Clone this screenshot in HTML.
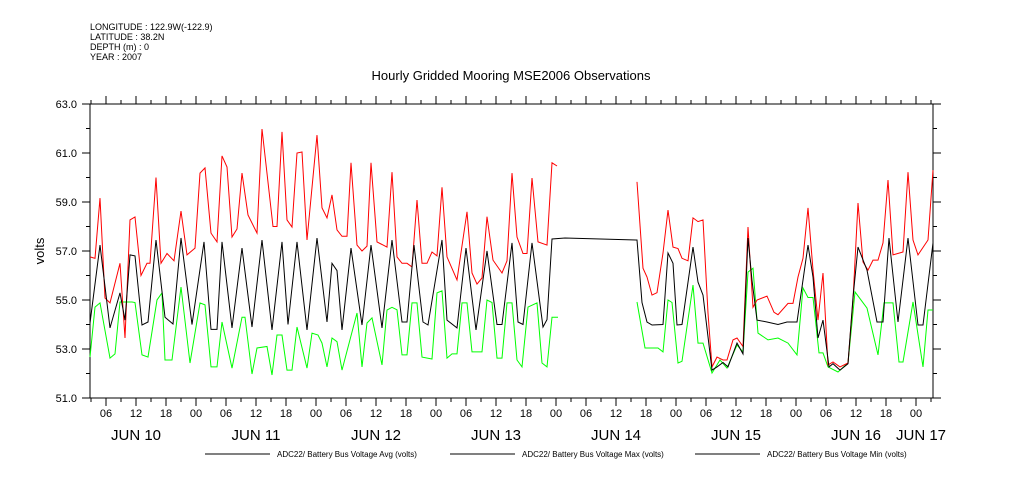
<!DOCTYPE html>
<html><head><meta charset="utf-8"><style>
body{margin:0;background:#fff;}
svg{display:block;font-family:"Liberation Sans",sans-serif;}
</style></head><body>
<svg id="chart" width="1009" height="504" viewBox="0 0 1009 504">
<g font-size="9" fill="#000">
<text x="90" y="30">LONGITUDE : 122.9W(-122.9)</text>
<text x="90" y="40">LATITUDE : 38.2N</text>
<text x="90" y="50">DEPTH (m) : 0</text>
<text x="90" y="60">YEAR : 2007</text>
</g>
<text x="511" y="80" font-size="13" text-anchor="middle">Hourly Gridded Mooring MSE2006 Observations</text>
<text x="44" y="251" font-size="13" text-anchor="middle" transform="rotate(-90 44 251)">volts</text>
<g id="axes"></g>
<g id="series"></g>
<g font-size="8">
<line x1="205" y1="454" x2="270" y2="454" stroke="#000"/>
<text x="277" y="457">ADC22/ Battery Bus Voltage Avg (volts)</text>
<line x1="450" y1="454" x2="515" y2="454" stroke="#000"/>
<text x="522" y="457">ADC22/ Battery Bus Voltage Max (volts)</text>
<line x1="695" y1="454" x2="760" y2="454" stroke="#000"/>
<text x="767" y="457">ADC22/ Battery Bus Voltage Min (volts)</text>
</g>
</svg>
<script>
// hours since JUN 10 00:00
var avgHours=[2.8,4.8,6.8,8.8,9.8,10.8,11.8,13.2,14.4,16,17.8,19.4,21,23.2,25.6,27,28.2,29.2,31.2,33.2,35.2,37.2,39.2,41.2,42.4,44.2,46.2,48.2,50.2,51.2,52.2,53.2,55,57.2,59,61.2,63.2,65.2,66.2,67.6,69.4,70.4,73.2,74.2,76.2,78,80,82.2,84.2,85.2,87.2,88.4,89.4,91.2,93.4,94.2,95.2,97.8,112.2,113.2,114.2,115.2,117.4,118.4,119.4,120.2,121.2,123.4,124.4,125.4,127.2,128.2,129.4,130.4,132.2,133.4,134.4,135.2,136.2,138.2,140.4,142.2,144.2,146.4,147.4,148.4,149.4,150.6,151.4,152.8,154.4,155.4,156.4,158.2,160.2,161.4,162.6,164.4,166.4,168.4,169.4,171.4];
var avgVals=[54.06,57.24,53.86,55.29,54.18,56.84,56.8,53.98,54.1,57.45,54.3,54.02,57.53,54.0,57.37,53.8,53.8,57.37,53.86,57.12,53.9,57.45,53.78,57.37,54.0,57.37,53.78,57.53,54.1,56.5,56.2,53.78,57.12,53.98,57.24,53.86,57.45,54.1,54.1,57.24,54.1,53.98,57.45,54.18,53.86,57.12,53.78,57.0,54.0,54.0,57.33,54.1,54.0,57.33,53.9,54.2,57.49,57.53,57.45,54.9,54.1,53.98,54.0,56.92,56.5,53.98,54.0,57.16,55.73,55.2,52.14,52.27,52.45,52.27,53.24,52.8,57.53,55.8,54.18,54.1,54.0,54.1,54.1,57.24,55.94,53.45,54.18,52.27,52.4,52.14,52.4,55.1,57.16,56.22,54.1,54.1,57.53,54.1,57.53,53.98,53.98,57.33];
var maxHours=[2.8,3.8,4.8,5.8,6.8,8.8,9.8,10.8,11.8,13,14.2,14.8,16,17,18.2,19.6,21,22.2,23.8,24.8,25.8,27,28.2,29.2,30.2,31.2,32.2,33.2,34.4,36.2,37.2,39.4,40.2,41.2,42.2,43.2,44.2,45.2,46.2,48.2,49.2,50.2,51.2,52.2,53.2,54.2,55,56.2,57.2,58.2,59,60.2,62.2,63.2,64.2,65.2,66.2,67.2,68.2,69.2,70.2,71.2,72.2,73.2,74.2,76.2,78.2,79.2,80.2,81.2,82.2,83.4,85.2,86.2,87.2,88.2,89.4,90.2,91.2,92.4,94.2,95.2,96.2,
null,112.2,113.4,114.2,115.2,116.2,117.4,118.4,119.4,120.4,121.2,122.4,123.4,124.4,125.4,126.4,127.2,128.2,129.4,130.2,131.4,132.2,133.4,134.4,135.4,136.2,138.2,139.6,140.4,142.4,143.4,144.4,145.4,146.4,147.4,148.4,149.4,150.4,151.4,152.8,154.4,155.4,156.4,157.4,158.4,159.4,160.4,161.4,162.4,163.4,165.4,166.4,167.4,168.4,170.4,171.4];
var maxVals=[56.76,56.7,59.16,55.08,54.88,56.5,53.45,58.27,58.39,56.0,56.5,56.5,60.0,56.5,56.9,56.6,58.63,56.84,57.12,60.18,60.39,57.73,57.37,60.88,60.43,57.57,57.9,60.18,58.47,57.73,61.98,58.0,58.0,61.86,58.27,57.98,61.0,61.04,57.45,61.73,58.76,58.35,59.29,57.86,57.6,57.6,60.6,57.24,57.0,57.2,60.6,57.37,57.16,60.22,56.76,56.5,56.5,56.35,59.08,56.5,56.5,56.96,56.8,59.6,56.76,55.82,58.6,56.1,55.65,55.9,58.4,56.63,56.1,56.6,60.18,57.57,56.9,56.9,59.98,57.37,57.24,60.6,60.47,
null,59.82,56.3,55.94,55.2,55.3,56.92,58.67,57.16,57.1,56.7,56.6,58.35,58.2,58.27,54.47,52.27,52.67,52.55,52.55,53.37,53.45,53.1,57.98,54.7,55.0,55.16,54.5,54.4,54.86,54.86,55.94,56.7,58.76,56.22,54.18,56.1,52.35,52.47,52.27,52.43,55.0,58.96,56.55,56.22,56.63,56.63,57.33,59.9,56.84,56.96,60.22,57.45,56.84,57.45,60.3];
var minHours=[2.8,3.8,4.8,6.8,7.8,8.8,9.8,11.2,11.8,13.2,14.4,16.2,17.2,17.8,19.2,21,22.8,24.8,25.8,27,28.2,29.2,31.2,33.2,33.8,35.2,36.2,38.2,39.2,40.2,41.2,42.2,43.2,44.2,46.2,47.2,48.4,49.2,50.2,51.2,52.2,53.2,56.2,57.2,58.2,59.2,61.2,62.2,63.2,64.2,65.2,66.2,67.2,68.2,69.2,71.2,72.2,73.2,74.2,75.2,76.2,77.2,78.2,79.2,81.2,82.2,83.2,84.2,85.2,86.2,87.2,88.2,89.2,90.4,92.2,93.2,94.2,95.2,96.4,
null,112.2,113.8,114.6,116.4,117.4,118.4,119.2,120.4,121.2,123.4,124.4,125.4,127.2,128.8,130.2,132.2,133.4,134.4,135.4,136.4,138.4,140.4,142.4,144.2,145.4,146.4,147.4,148.6,149.4,150.4,152.4,154.4,155.8,158.2,160.4,161.6,163.4,164.6,165.4,167.4,169.4,170.4,171.4];
var minVals=[52.67,54.71,54.88,52.63,52.8,54.92,54.92,54.92,54.9,52.76,52.67,55.0,55.29,52.55,52.55,55.53,52.43,54.88,54.8,52.27,52.27,54.1,52.22,54.3,54.3,51.98,53.04,53.1,51.94,53.57,53.57,52.14,52.14,53.9,52.22,53.65,53.57,53.24,52.27,53.45,53.3,52.14,54.47,52.27,54.06,54.27,52.35,54.59,54.7,54.6,52.76,52.76,54.88,54.88,52.67,52.59,55.29,55.37,52.63,52.8,52.8,54.88,54.88,52.88,52.88,55.0,54.9,52.63,52.63,54.88,54.88,52.55,52.27,54.71,54.88,52.43,52.27,54.3,54.3,
null,54.92,53.04,53.04,53.04,52.88,55.0,54.9,52.43,52.5,55.61,53.24,53.24,52.02,52.55,52.22,53.16,52.88,56.14,56.3,53.65,53.37,53.45,53.24,52.76,55.49,55.1,55.1,52.84,52.84,52.27,52.06,52.43,55.33,54.67,52.76,54.88,54.88,52.47,52.47,54.92,52.27,54.59,54.59];
var yTicks=[51,53,55,57,59,61,63];
var hourLabels=["00","06","12","18"];
var dayLabels=["JUN 10","JUN 11","JUN 12","JUN 13","JUN 14","JUN 15","JUN 16","JUN 17"];

var X0=90,X1=933,Y0=104,Y1=398;
function xS(h){return 76+h*5;}
function yS(v){return Y1-(v-51)/12*(Y1-Y0);}
var NS="http://www.w3.org/2000/svg";
function mk(tag,attrs,parent){var e=document.createElementNS(NS,tag);for(var k in attrs)e.setAttribute(k,attrs[k]);parent.appendChild(e);return e;}
var ax=document.getElementById('axes');
var frame=mk('rect',{x:X0,y:Y0,width:X1-X0,height:Y1-Y0,fill:'none',stroke:'#000','stroke-width':1},ax);


for(var v=51;v<=63;v++){
  var len=(v%2===1)?8:4;
  var t1=mk('line',{x1:X0-len,y1:yS(v),x2:X0,y2:yS(v),stroke:'#000'},ax);
  
  
  var t2=mk('line',{x1:X1,y1:yS(v),x2:X1+len,y2:yS(v),stroke:'#000'},ax);
  
  
}
yTicks.forEach(function(v){
  var t=mk('text',{x:X0-13,y:yS(v)+4,'font-size':11,'text-anchor':'end'},ax);
  t.textContent=v.toFixed(1);
  
  
});
for(var h=3;h<=171;h+=1){
  if(h%3!==0)continue;
  var len=(h%6===0)?8:4;var x=xS(h);
  if(x<X0||x>X1)continue;
  var b=mk('line',{x1:x,y1:Y1,x2:x,y2:Y1+len,stroke:'#000'},ax);
  
  
  var tp=mk('line',{x1:x,y1:Y0-len,x2:x,y2:Y0,stroke:'#000'},ax);
  
  
  if(h%6===0){
    var lb=mk('text',{x:x,y:417,'font-size':11,'text-anchor':'middle'},ax);
    lb.textContent=hourLabels[(h/6)%4];
    
    
  }
}
dayLabels.forEach(function(d,i){
  var x=xS(i*24+12);
  if(i===6)x=856;
  if(i===7)x=921;
  var t=mk('text',{x:x,y:440,'font-size':15,'text-anchor':'middle'},ax);
  t.textContent=d;
  
  
});
function pathD(hs,vs){var d='',pen=false;for(var i=0;i<hs.length;i++){if(hs[i]===null||vs[i]===null){pen=false;continue;}d+=(pen?'L':'M')+xS(hs[i]).toFixed(1)+' '+yS(vs[i]).toFixed(1);pen=true;}return d;}
var sg=document.getElementById('series');
var pMin=mk('path',{d:pathD(minHours,minVals),fill:'none',stroke:'#00ff00','stroke-width':1},sg);


var pMax=mk('path',{d:pathD(maxHours,maxVals),fill:'none',stroke:'#ff0000','stroke-width':1},sg);


var pAvg=mk('path',{d:pathD(avgHours,avgVals),fill:'none',stroke:'#000','stroke-width':1},sg);


</script>
</body></html>
